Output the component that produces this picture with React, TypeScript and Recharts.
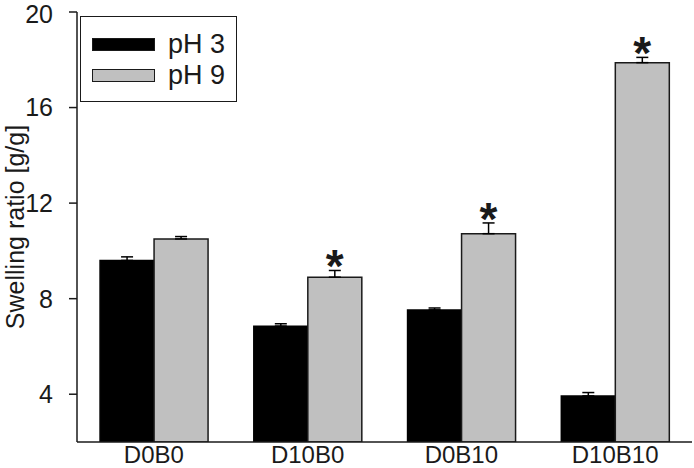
import { BarChart, Bar, XAxis, YAxis, ErrorBar, LabelList, Legend } from 'recharts';

const groups = ['D0B0', 'D10B0', 'D0B10', 'D10B10'];
const ph3 = [9.6, 6.85, 7.53, 3.93];
const ph9 = [10.5, 8.9, 10.72, 17.88];
const ph3Err = [0.15, 0.1, 0.08, 0.14];
const ph9Err = [0.1, 0.28, 0.45, 0.22];
const marked = [false, true, true, true];
const yTicks = [4, 8, 12, 16, 20];
const yMin = 2;
const yMax = 20;

const data = groups.map((name, i) => ({
  name,
  ph3: ph3[i],
  ph9: ph9[i],
  e3: [0, ph3Err[i]],
  e9: [0, ph9Err[i]],
}));

const FONT = '"Liberation Sans", Arial, sans-serif';
const INK = '#1a1a1a';
const GRAY = '#c0c0c0';

// asterisk over the marked pH 9 bars, sitting just above the error cap
const Star = (props: any) => {
  const vb = props.viewBox ?? props;
  const idx = props.index;
  if (!marked[idx]) return null;
  const h = Math.abs(vb.height);
  const top = Math.min(vb.y, vb.y + vb.height);
  const perUnit = h / (ph9[idx] - yMin);
  const errTop = top - ph9Err[idx] * perUnit;
  const size = 46;
  return (
    <text
      x={vb.x + vb.width / 2}
      y={errTop - 15 + size * 0.58}
      textAnchor="middle"
      fontSize={size}
      fontWeight="bold"
      fontFamily={FONT}
      fill={INK}
    >
      *
    </text>
  );
};

const LegendBox = (props: any) => {
  const items = props.payload ?? [];
  return (
    <div
      style={{
        position: 'relative',
        width: 157,
        height: 86,
        boxSizing: 'border-box',
        border: `1.5px solid ${INK}`,
        background: '#fff',
        fontFamily: FONT,
      }}
    >
      {items.map((it: any, i: number) => (
        <div key={it.value} style={{ position: 'absolute', left: 11, top: 20 + i * 31, height: 14, display: 'flex', alignItems: 'center' }}>
          <div style={{ width: 63, height: 13, boxSizing: 'border-box', background: it.color, border: `1.2px solid ${INK}` }} />
          <span style={{ marginLeft: 13, fontSize: 27, color: INK, lineHeight: '14px', whiteSpace: 'nowrap' }}>{it.value}</span>
        </div>
      ))}
    </div>
  );
};

export default function App() {
  return (
    <div style={{ position: 'absolute', left: 0, top: 0, background: '#fff' }}>
      <BarChart
        width={694}
        height={468}
        data={data}
        margin={{ top: 12, right: 2, left: 0, bottom: 0 }}
        barGap={0}
        barCategoryGap="15%"
      >
        <XAxis
          dataKey="name"
          height={26}
          tickLine={false}
          tickSize={4}
          tickMargin={0}
          axisLine={{ stroke: INK, strokeWidth: 1.5 }}
          tick={{ fontSize: 24, fill: INK, fontFamily: FONT }}
        />
        <XAxis xAxisId="top" orientation="top" dataKey="name" height={0} tick={false} tickLine={false} axisLine={{ stroke: INK, strokeWidth: 1.5 }} />
        <YAxis
          width={77}
          domain={[yMin, yMax]}
          ticks={yTicks}
          allowDataOverflow
          tickSize={8}
          tickMargin={16}
          tickLine={{ stroke: INK, strokeWidth: 1.5 }}
          axisLine={{ stroke: INK, strokeWidth: 1.5 }}
          tick={{ fontSize: 25, fill: INK, fontFamily: FONT }}
          label={{
            value: 'Swelling ratio [g/g]',
            angle: -90,
            position: 'insideLeft',
            offset: 15,
            style: { textAnchor: 'middle', fontSize: 25, fill: INK, fontFamily: FONT },
          }}
        />
        <YAxis yAxisId="right" orientation="right" width={0} domain={[yMin, yMax]} tick={false} tickLine={false} axisLine={{ stroke: INK, strokeWidth: 1.5 }} />
        <Legend
          layout="horizontal"
          verticalAlign="middle"
          align="center"
          wrapperStyle={{ left: 80, top: 16, width: 157, height: 86 }}
          content={(p: any) => <LegendBox {...p} />}
        />
        <Bar dataKey="ph3" name="pH 3" fill="#000" stroke="#000" strokeWidth={1.5} isAnimationActive={false}>
          <ErrorBar dataKey="e3" width={6} stroke="#000" strokeWidth={1.5} direction="y" />
        </Bar>
        <Bar dataKey="ph9" name="pH 9" fill={GRAY} stroke={INK} strokeWidth={1.5} isAnimationActive={false}>
          <ErrorBar dataKey="e9" width={6} stroke="#000" strokeWidth={1.5} direction="y" />
          <LabelList dataKey="ph9" content={(p: any) => <Star {...p} />} />
        </Bar>
      </BarChart>
    </div>
  );
}
